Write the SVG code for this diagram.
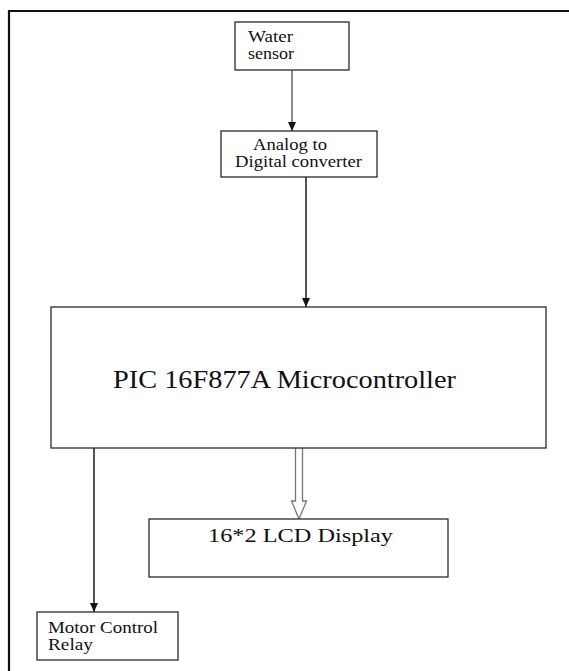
<svg xmlns="http://www.w3.org/2000/svg" width="569" height="671" viewBox="0 0 569 671">
<defs>
<style>
.box{fill:#fff;stroke:#2a2a2a;stroke-width:1.3}
.t{fill:#111}
.s{font-size:16px}
.line{stroke:#1a1a1a;stroke-width:1.5;fill:none}
.gline{stroke:#666;stroke-width:1.5;fill:none}
</style>
<marker id="ah" markerWidth="9" markerHeight="8" refX="9" refY="4" orient="auto" markerUnits="userSpaceOnUse">
<path d="M0,0 L9,4 L0,8 z" fill="#111"/>
</marker>
</defs>
<rect width="569" height="671" fill="#fff"/>
<path d="M9,671 V11 H569" fill="none" stroke="#111" stroke-width="2.2"/>
<g id="connectors">
<line class="gline" x1="292" y1="70" x2="292" y2="131" marker-end="url(#ah)"/>
<line class="line" x1="306" y1="177" x2="306" y2="307" marker-end="url(#ah)"/>
<line class="line" x1="94" y1="448" x2="94" y2="612" marker-end="url(#ah)"/>
<path d="M295.5,448 V501 H291.5 L299,519 L306.5,501 H302.5 V448" fill="#fff" stroke="#777" stroke-width="1.3"/>
</g>
<g font-family="'Liberation Serif', 'DejaVu Serif', serif">
<g id="water-sensor">
<rect class="box" x="235" y="22" width="114" height="48"/>
<text class="t s" x="248" y="42" textLength="45" lengthAdjust="spacingAndGlyphs">Water</text>
<text class="t s" x="248" y="59" textLength="46" lengthAdjust="spacingAndGlyphs">sensor</text>
</g>
<g id="adc">
<rect class="box" x="221" y="131" width="156" height="46"/>
<text class="t s" x="253" y="150" textLength="74" lengthAdjust="spacingAndGlyphs">Analog to</text>
<text class="t s" x="235" y="167" textLength="127" lengthAdjust="spacingAndGlyphs">Digital converter</text>
</g>
<g id="microcontroller">
<rect class="box" x="51" y="307" width="495" height="141"/>
<text class="t" x="113" y="388" font-size="25" textLength="343" lengthAdjust="spacingAndGlyphs">PIC 16F877A Microcontroller</text>
</g>
<g id="lcd">
<rect class="box" x="149" y="519" width="299" height="58"/>
<text class="t" x="208" y="542" font-size="19" textLength="185" lengthAdjust="spacingAndGlyphs">16*2 LCD Display</text>
</g>
<g id="relay">
<rect class="box" x="37" y="612" width="141" height="48"/>
<text class="t s" x="48" y="633" textLength="110" lengthAdjust="spacingAndGlyphs">Motor Control</text>
<text class="t s" x="48" y="650" textLength="45" lengthAdjust="spacingAndGlyphs">Relay</text>
</g>
</g>
</svg>
